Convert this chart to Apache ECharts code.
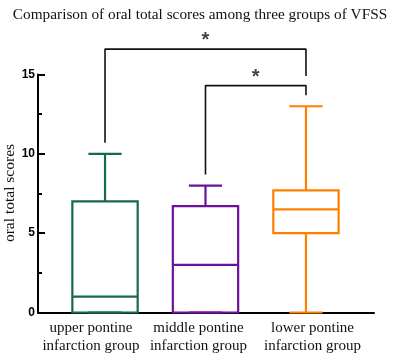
<!DOCTYPE html>
<html>
<head>
<meta charset="utf-8">
<script src="https://cdn.jsdelivr.net/npm/echarts@6/dist/echarts.min.js"></script>
<style>
  html, body { margin: 0; padding: 0; background: #fff; }
  #boxChart { width: 400px; height: 357px; }
</style>
</head>
<body>
<div id="boxChart"></div>
<script>
// groups and five-number summaries
let categories = ['upper pontine\ninfarction group', 'middle pontine\ninfarction group', 'lower pontine\ninfarction group']
let labelSpots = [-0.14, 0.93, 2.065]
let minVals = [0, 0, 0]
let q1Vals = [0, 0, 5]
let medianVals = [1, 3, 6.5]
let q3Vals = [7, 6.7, 7.7]
let maxVals = [10, 8, 13]
let boxColors = ['#16694a', '#6c1299', '#ff8000']
// significance brackets (group index, score)
let bracketWide = [[0, 10.7], [0, 16.6], [2, 16.6], [2, 14.9]]
let bracketNarrow = [[1, 8.7], [1, 14.3], [2, 14.3], [2, 13.7]]
let starMarks = [[1, 16.6], [1.5, 14.3]]

let boxData = categories.map((c, i) => [i, minVals[i], q1Vals[i], medianVals[i], q3Vals[i], maxVals[i]])

let serif = '"Liberation Serif", "Times New Roman", serif'

let myChart = echarts.init(document.getElementById('boxChart'))
myChart.setOption({
  animation: false,
  title: {
    text: 'Comparison of oral total scores among three groups of VFSS',
    left: 'center',
    top: 2,
    textStyle: { fontFamily: serif, fontSize: 15.3, fontWeight: 'normal', color: '#111' }
  },
  // y axis title, rotated
  graphic: [{
    type: 'text',
    x: 10,
    y: 193,
    rotation: Math.PI / 2,
    style: {
      text: 'oral total scores',
      fontFamily: serif,
      fontSize: 15.5,
      fill: '#111',
      align: 'center',
      verticalAlign: 'middle'
    }
  }],
  grid: { left: 38, right: 26, top: 74.5, bottom: 44.5, outerBoundsMode: 'none', containLabel: false },
  xAxis: {
    type: 'value',
    min: -0.667,
    max: 2.677,
    splitLine: { show: false },
    axisTick: { show: false },
    axisLine: { onZero: false, lineStyle: { color: '#000', width: 2 } },
    axisLabel: {
      customValues: labelSpots,
      formatter: (v) => categories[labelSpots.indexOf(v)],
      fontFamily: serif,
      fontSize: 15,
      lineHeight: 18,
      color: '#111',
      margin: 7
    }
  },
  yAxis: {
    type: 'value',
    min: 0,
    max: 15,
    interval: 5,
    splitLine: { show: false },
    axisLine: { show: true, onZero: false, lineStyle: { color: '#000', width: 2 } },
    axisTick: { inside: true, length: 7, lineStyle: { color: '#000', width: 2 } },
    minorTick: { show: true, splitNumber: 2, length: 4, lineStyle: { color: '#000', width: 2 } },
    axisLabel: {
      fontFamily: '"Liberation Sans", Arial, sans-serif',
      fontWeight: 'bold',
      fontSize: 12,
      color: '#000',
      margin: 3
    }
  },
  series: [
    {
      type: 'custom',
      data: boxData,
      z: 3,
      renderItem (params, api) {
        let i = api.value(0)
        let color = boxColors[i]
        let halfBox = api.size([0.65, 0])[0] / 2
        let halfCap = api.size([0.33, 0])[0] / 2
        let pMin = api.coord([i, api.value(1)])
        let pQ1 = api.coord([i, api.value(2)])
        let pMed = api.coord([i, api.value(3)])
        let pQ3 = api.coord([i, api.value(4)])
        let pMax = api.coord([i, api.value(5)])
        let style = { stroke: color, lineWidth: 2.2, fill: null }
        let line = (x1, y1, x2, y2) => ({ type: 'line', shape: { x1, y1, x2, y2 }, style })
        let x = pMed[0]
        return {
          type: 'group',
          children: [
            line(x, pQ3[1], x, pMax[1]),
            line(x - halfCap, pMax[1], x + halfCap, pMax[1]),
            line(x, pQ1[1], x, pMin[1]),
            line(x - halfCap, pMin[1], x + halfCap, pMin[1]),
            { type: 'rect', shape: { x: x - halfBox, y: pQ3[1], width: halfBox * 2, height: pQ1[1] - pQ3[1] }, style },
            line(x - halfBox, pMed[1], x + halfBox, pMed[1])
          ]
        }
      }
    },
    {
      type: 'line',
      data: bracketWide,
      clip: false,
      symbol: 'none',
      lineStyle: { color: '#111', width: 1.6 }
    },
    {
      type: 'line',
      data: bracketNarrow,
      clip: false,
      symbol: 'none',
      lineStyle: { color: '#111', width: 1.6 }
    },
    {
      type: 'scatter',
      data: starMarks,
      clip: false,
      symbolSize: 1,
      itemStyle: { color: 'rgba(0,0,0,0)' },
      label: {
        show: true,
        formatter: '*',
        position: 'top',
        distance: -2,
        fontFamily: '"Liberation Sans", Arial, sans-serif',
        fontWeight: 'bold',
        fontSize: 20,
        color: '#111'
      }
    }
  ]
})
</script>
</body>
</html>
